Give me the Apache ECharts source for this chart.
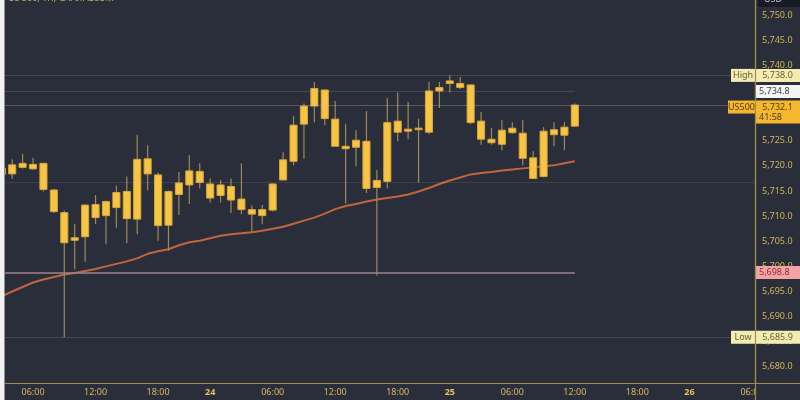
<!DOCTYPE html>
<html><head><meta charset="utf-8">
<script src="https://cdn.jsdelivr.net/npm/echarts@6/dist/echarts.min.js"></script>
<style>html,body{margin:0;padding:0;background:#2a2e3a}#c{width:800px;height:400px}</style>
</head><body><div id="c"></div>
<script>
// hourly bar index (0 = 04:00 on the 23rd)
const barIndex = [-1,0,1,2,3,4,5,6,7,8,9,10,11,12,13,14,15,16,17,18,19,20,21,22,23,24,25,26,27,28,29,30,31,32,33,34,35,36,37,38,39,40,41,42,43,44,45,46,47,48,49,50,51,52,53,54];
const openP  = [5718.3,5718.4,5720.5,5719.4,5720.5,5715.2,5710.7,5705.2,5705.9,5712.3,5710.1,5711.7,5714.9,5709.4,5721.4,5718.2,5708.2,5714.3,5716.2,5718.9,5716.4,5714.1,5715.9,5713.4,5711.3,5710.1,5711.2,5717.2,5720.9,5728.3,5731.9,5735.1,5729.3,5723.9,5723.7,5724.9,5715.7,5716.9,5728.9,5726.9,5727.5,5726.7,5734.9,5736.4,5736.4,5736.1,5728.9,5725.3,5724.3,5727.5,5726.5,5721.6,5717.9,5726.2,5726.1,5727.9];
const closeP = [5719.6,5720.2,5719.7,5720.3,5715.3,5710.9,5704.7,5705.7,5712.2,5709.7,5712.9,5714.7,5709.5,5721.3,5718.4,5708.1,5714.9,5716.6,5719.0,5716.7,5713.6,5716.2,5713.2,5711.3,5710.4,5711.3,5716.4,5721.2,5728.1,5731.9,5735.4,5729.4,5723.9,5723.4,5725.1,5715.5,5717.1,5728.6,5726.7,5727.3,5727.2,5734.9,5735.6,5736.9,5735.6,5728.6,5725.3,5724.6,5727.1,5726.6,5721.5,5717.5,5726.9,5727.2,5727.7,5732.1];
const lowP   = [5717.6,5717.4,5719.5,5719.3,5714.9,5710.6,5685.9,5699.4,5700.9,5708.4,5704.4,5707.7,5704.6,5706.4,5715.1,5705.1,5703.1,5710.2,5712.4,5715.5,5712.7,5712.7,5710.6,5710.4,5706.9,5708.4,5710.9,5717.1,5720.1,5721.4,5728.7,5728.1,5723.9,5712.5,5719.9,5714.6,5698.2,5715.5,5724.9,5725.3,5716.7,5726.3,5731.5,5734.6,5735.3,5728.3,5724.2,5724.2,5723.1,5726.4,5720.1,5717.4,5717.7,5723.9,5723.1,5727.9];
const highP  = [5720.6,5721.3,5722.4,5721.6,5720.5,5715.4,5711.1,5708.4,5712.3,5714.2,5713.1,5716.1,5717.9,5726.2,5724.1,5718.7,5715.1,5718.8,5722.1,5720.5,5717.5,5717.2,5717.5,5720.5,5712.1,5712.2,5716.5,5722.7,5729.9,5732.4,5736.7,5735.1,5732.9,5728.4,5727.1,5730.9,5719.2,5733.5,5734.6,5732.7,5729.4,5736.7,5736.7,5738.0,5737.7,5736.2,5730.7,5727.5,5729.1,5728.7,5729.1,5722.9,5727.7,5728.7,5728.7,5732.4];
const maLine = [5694.1,5695.0,5695.9,5696.8,5697.4,5697.9,5698.4,5698.7,5699.1,5699.5,5700.0,5700.5,5701.0,5701.6,5702.5,5703.0,5703.4,5704.2,5704.8,5705.1,5705.6,5706.1,5706.4,5706.6,5706.8,5707.1,5707.5,5707.9,5708.5,5709.1,5709.7,5710.5,5711.4,5712.0,5712.4,5712.9,5713.3,5713.6,5713.9,5714.3,5714.9,5715.6,5716.4,5717.1,5717.7,5718.3,5718.6,5718.8,5719.1,5719.3,5719.5,5719.7,5719.9,5720.1,5720.5,5720.9];

const xTickIndex = [2,8,14,19,25,31,37,42,48,54,60,65,71];
const xTickText  = ['06:00','12:00','18:00','24','06:00','12:00','18:00','25','06:00','12:00','18:00','26','06:00'];
const yTicks = [5680,5685,5690,5695,5700,5705,5710,5715,5720,5725,5730,5735,5740,5745,5750];

const highVal = 5738.0, lowVal = 5685.9, lastVal = 5732.1, refVal = 5734.8, prevVal = 5698.8, midVal = 5716.8;
const lastBarIndex = 54;
const xMin = -0.69, xMax = 71.29;

const fmt = v => v.toLocaleString('en-US',{minimumFractionDigits:1, maximumFractionDigits:1});

const candles = barIndex.map((k,i)=>[k, openP[i], closeP[i], lowP[i], highP[i]]);
const maData = barIndex.map((k,i)=>[k, maLine[i]]);

const chart = echarts.init(document.getElementById('c'), null, {renderer:'canvas'});
const faint = 'rgba(190,195,210,0.17)';
const axisCol = '#a08b4a';
const richBox = {
  t: {backgroundColor:'#f2ecb2', color:'#6a5f2e', fontSize:9, width:18, align:'center', padding:[2,3], lineHeight:10, fontFamily:'Noto Sans'},
  v: {backgroundColor:'#f2ecb2', color:'#6a5f2e', fontSize:9, width:37, padding:[2,4], lineHeight:10, fontFamily:'Noto Sans'},
  w: {backgroundColor:'#f4f4f4', color:'#3a3f4c', fontSize:9, width:37, padding:[2,4], lineHeight:10, fontFamily:'Noto Sans'},
  p: {backgroundColor:'#f3a3a6', color:'#8a2f38', fontSize:9, width:37, padding:[2,4], lineHeight:10, fontFamily:'Noto Sans'},
  ot:{backgroundColor:'#f5b730', color:'#5a4000', fontSize:9, width:21, align:'center', padding:[2,3], lineHeight:10, fontFamily:'Noto Sans'},
  ov:{backgroundColor:'#f5b730', color:'#5a4000', fontSize:9, width:37, padding:[2,4], lineHeight:10, fontFamily:'Noto Sans'},
  sp:{fontSize:9, width:21, padding:[2,3], lineHeight:10}
};
const hidden = {color:'rgba(0,0,0,0)', width:0};

const option = {
  animation:false,
  backgroundColor:'#2a2e3a',
  grid:{left:5, right:45, top:0, bottom:17},
  xAxis:{
    type:'value', min:xMin, max:xMax,
    splitLine:{show:false}, axisTick:{show:false},
    axisLine:{show:true, onZero:false, lineStyle:{color:axisCol, width:1}},
    axisLabel:{
      customValues:xTickIndex, margin:5, fontSize:9, color:'#d8b85e', fontFamily:'Noto Sans',
      formatter:v=>{ const t = xTickText[xTickIndex.indexOf(v)]; return t.indexOf(':')<0 ? '{b|'+t+'}' : t; },
      rich:{b:{fontWeight:'bold', fontSize:9, color:'#e2c060', fontFamily:'Noto Sans'}}
    }
  },
  yAxis:{
    type:'value', position:'right', min:5676.8, max:5753.0, scale:true,
    splitLine:{show:false}, axisTick:{show:false},
    axisLine:{show:true, onZero:false, lineStyle:{color:axisCol, width:1.2}},
    axisLabel:{customValues:yTicks, margin:7, fontSize:9, color:'#d4b45c', fontFamily:'Noto Sans', formatter:v=>fmt(v)}
  },
  series:[
    {
      type:'line', data:maData, showSymbol:false, clip:true, z:3,
      lineStyle:{color:'#c4643c', width:2},
      markLine:{
        symbol:['none','none'], silent:true, animation:false,
        label:{show:false},
        data:[
          {yAxis:midVal, lineStyle:{color:'rgba(190,195,210,0.13)', type:'solid', width:1}},
          {yAxis:lowVal, lineStyle:{color:faint, type:'solid', width:1},
            label:{show:true, position:'end', distance:0, offset:[-24,0], rich:richBox, formatter:'{t|Low}{v|'+fmt(lowVal)+'}'}},
          {yAxis:highVal, lineStyle:{color:faint, type:'solid', width:1},
            label:{show:true, position:'end', distance:0, offset:[-24,0], rich:richBox, formatter:'{t|High}{v|'+fmt(highVal)+'}'}},
          [{coord:[xMin, refVal], lineStyle:{color:faint, type:'solid', width:1}}, {coord:[lastBarIndex, refVal]}],
          {yAxis:refVal, lineStyle:hidden,
            label:{show:true, position:'end', distance:0, rich:richBox, formatter:'{w|'+fmt(refVal)+'}'}},
          [{coord:[xMin, prevVal], lineStyle:{color:'#a07f8b', type:'solid', width:1.5}}, {coord:[lastBarIndex, prevVal]}],
          {yAxis:prevVal, lineStyle:hidden,
            label:{show:true, position:'end', distance:0, rich:richBox, formatter:'{p|'+fmt(prevVal)+'}'}},
          {yAxis:lastVal, lineStyle:{color:'rgba(225,190,190,0.3)', type:'solid', width:1},
            label:{show:true, position:'end', distance:0, offset:[-27,7], rich:richBox, formatter:'{ot|US500}{ov|'+fmt(lastVal)+'}\n{sp|}{ov|41:58}'}}
        ]
      }
    },
    {
      type:'custom', data:candles, clip:true, z:4,
      encode:{x:0, y:[1,2,3,4]},
      renderItem:(params, api)=>{
        const x = api.value(0), o = api.value(1), c = api.value(2), l = api.value(3), h = api.value(4);
        const top = api.coord([x, Math.max(o,c)]);
        const bot = api.coord([x, Math.min(o,c)]);
        const hi = api.coord([x, h]);
        const lo = api.coord([x, l]);
        const w = api.size([1,0])[0]*0.68;
        return {type:'group', children:[
          {type:'line', shape:{x1:hi[0], y1:hi[1], x2:lo[0], y2:lo[1]}, style:{stroke:'#9a8a5c', lineWidth:1.2}},
          {type:'rect', shape:{x:top[0]-w/2, y:top[1], width:w, height:Math.max(1.5, bot[1]-top[1])}, style:{fill:'#f7c544', stroke:'#d9a53a', lineWidth:1}}
        ]};
      }
    }
  ],
  graphic:[
    {type:'rect', z:100, shape:{x:0, y:0, width:4.5, height:400}, style:{fill:'#f2f2f2'}},
    {type:'rect', z:100, shape:{x:756, y:384, width:44, height:16}, style:{fill:'#2a2e3a'}},
    {type:'line', z:101, shape:{x1:755.5, y1:0, x2:755.5, y2:400}, style:{stroke:axisCol, lineWidth:1.2}},
    {type:'line', z:101, shape:{x1:755, y1:383.5, x2:800, y2:383.5}, style:{stroke:axisCol, lineWidth:1}},
    {type:'text', z:101, x:8, y:-6, style:{text:'US 500, 1H, CAPITALCOM', fill:'#c9b46a', fontSize:9, fontFamily:'Noto Sans'}},
    {type:'rect', z:101, shape:{x:758, y:0, width:42, height:7}, style:{fill:'#171b26'}},
    {type:'text', z:102, x:764, y:-5, style:{text:'USD', fill:'#c8c8cc', fontSize:9, fontFamily:'Noto Sans'}}
  ]
};
chart.setOption(option);
</script>
</body></html>
